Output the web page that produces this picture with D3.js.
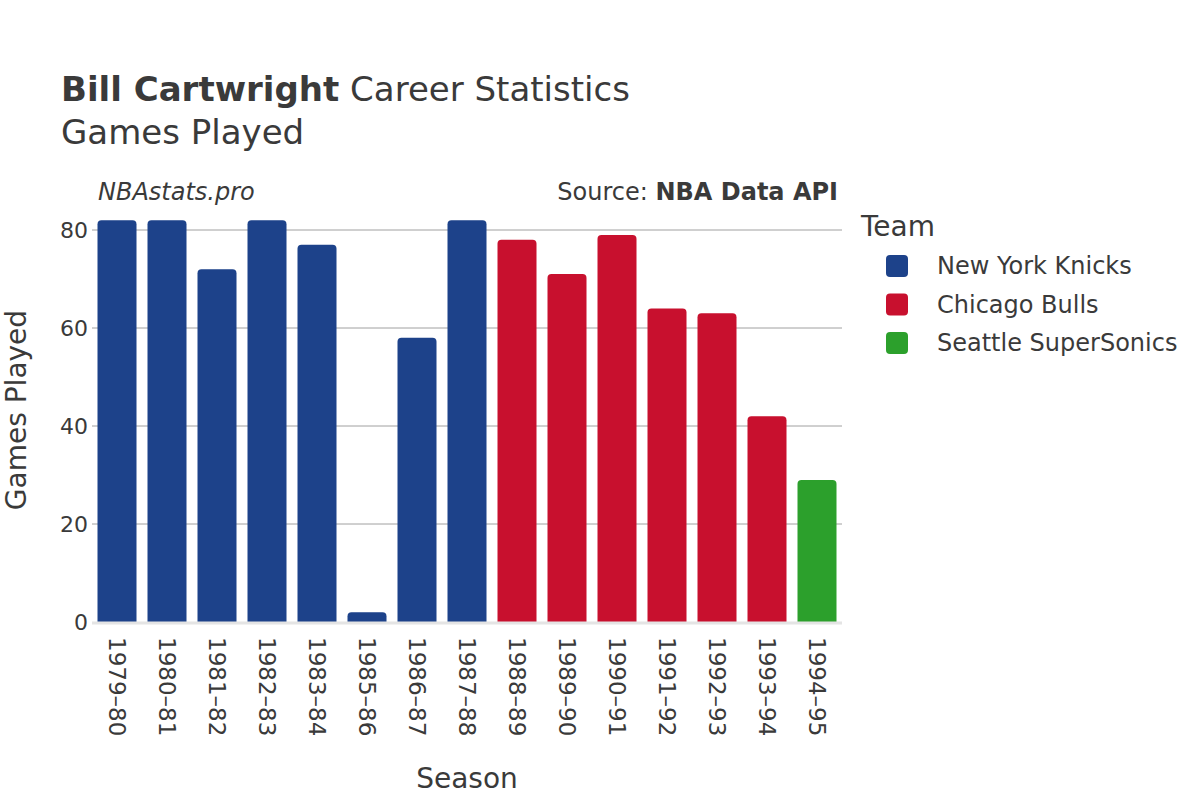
<!DOCTYPE html>
<html><head><meta charset="utf-8">
<script src="https://cdn.jsdelivr.net/npm/d3@7"></script>
<style>body{margin:0;background:#fff}svg{font-family:"DejaVu Sans",sans-serif}</style>
</head><body><svg id="c" width="1200" height="800"></svg>
<script>
const seasons = ["1979–80","1980–81","1981–82","1982–83","1983–84","1985–86","1986–87","1987–88","1988–89","1989–90","1990–91","1991–92","1992–93","1993–94","1994–95"];
const games = [82,82,72,82,77,2,58,82,78,71,79,64,63,42,29];
const teams = ["NYK","NYK","NYK","NYK","NYK","NYK","NYK","NYK","CHI","CHI","CHI","CHI","CHI","CHI","SEA"];
const teamKeys = ["NYK","CHI","SEA"];
const teamNames = ["New York Knicks","Chicago Bulls","Seattle SuperSonics"];
const teamColors = ["#1d428a","#c8102e","#2ca02c"];
const yTicks = [0,20,40,60,80];

const svg = d3.select("#c");
const txt = "#3a3a3a";
const x = d3.scaleBand().domain(seasons).range([92,842]).paddingInner(0.22).paddingOuter(0.11);
const y = d3.scaleLinear().domain([0,80]).range([622,230]);
const color = d3.scaleOrdinal().domain(teamKeys).range(teamColors);

// gridlines
svg.append("g").selectAll("line").data(yTicks.filter(t=>t>0)).join("line")
  .attr("x1",92).attr("x2",842).attr("y1",d=>y(d)).attr("y2",d=>y(d))
  .attr("stroke","#a0a0a0").attr("stroke-width",1);

// bars with rounded top
function barPath(x0,w,yt,yb){
  const r = Math.min(4,(yb-yt),w/2);
  return `M${x0},${yb}V${yt+r}Q${x0},${yt} ${x0+r},${yt}H${x0+w-r}Q${x0+w},${yt} ${x0+w},${yt+r}V${yb}Z`;
}
svg.append("g").selectAll("path").data(seasons).join("path")
  .attr("d",(s,i)=>barPath(x(s),x.bandwidth(),y(games[i]),y(0)))
  .attr("fill",(s,i)=>color(teams[i]));

// zero line
svg.append("line").attr("x1",92).attr("x2",842).attr("y1",y(0)+1).attr("y2",y(0)+1)
  .attr("stroke","#e4e4e4").attr("stroke-width",3);

// y axis labels
const ya = svg.append("g").attr("transform","translate(88,0)").call(d3.axisLeft(y).tickValues(yTicks).tickSize(0).tickPadding(0));
ya.select(".domain").remove();
ya.selectAll("text").attr("font-size",22).attr("fill",txt).attr("font-family","DejaVu Sans");

// x axis labels
const xa = svg.append("g").attr("transform",`translate(0,${y(0)})`).call(d3.axisBottom(x).tickSize(0).tickPadding(0));
xa.select(".domain").remove();
xa.selectAll("text").attr("font-size",23).attr("fill",txt).attr("font-family","DejaVu Sans")
  .attr("text-anchor","start").attr("dy",null)
  .attr("transform","translate(0,15) rotate(90)").attr("x",0).attr("y",0).attr("dominant-baseline","central");

// titles
const t = svg.append("text").attr("x",61).attr("y",101).attr("font-size",34).attr("fill",txt);
t.append("tspan").attr("font-weight","bold").text("Bill Cartwright");
t.append("tspan").text(" Career Statistics");
svg.append("text").attr("x",61).attr("y",144).attr("font-size",34).attr("fill",txt).text("Games Played");
svg.append("text").attr("x",98).attr("y",200).attr("font-size",24).attr("font-style","italic").attr("fill",txt).text("NBAstats.pro");
const src = svg.append("text").attr("x",838).attr("y",200).attr("font-size",24).attr("text-anchor","end").attr("fill",txt);
src.append("tspan").text("Source: ");
src.append("tspan").attr("font-weight","bold").text("NBA Data API");

// axis titles
svg.append("text").attr("x",467).attr("y",788).attr("text-anchor","middle").attr("font-size",28).attr("fill",txt).text("Season");
svg.append("text").attr("transform","translate(26,410) rotate(-90)").attr("text-anchor","middle").attr("font-size",28).attr("fill",txt).text("Games Played");

// legend
svg.append("text").attr("x",861).attr("y",236).attr("font-size",28).attr("fill",txt).text("Team");
const lg = svg.append("g").selectAll("g").data(teamKeys).join("g").attr("transform",(d,i)=>`translate(0,${266+i*38.5})`);
lg.append("rect").attr("x",886).attr("y",-11).attr("width",22).attr("height",22).attr("rx",4).attr("fill",d=>color(d));
lg.append("text").attr("x",937).attr("y",0).attr("dy","0.35em").attr("font-size",24).attr("fill",txt).text((d,i)=>teamNames[i]);
</script></body></html>
